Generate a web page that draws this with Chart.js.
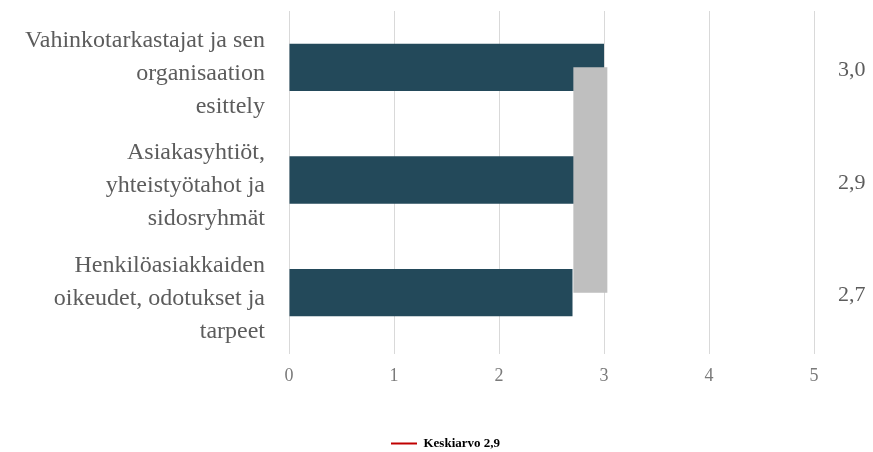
<!DOCTYPE html>
<html>
<head>
<meta charset="utf-8">
<script src="https://cdn.jsdelivr.net/npm/chart.js@4.4.1/dist/chart.umd.min.js"></script>
<style>
  html, body { margin: 0; padding: 0; background: #ffffff; }
  #wrap { width: 873px; height: 452px; position: relative; }
</style>
</head>
<body>
<div id="wrap"><canvas id="chart"></canvas></div>
<script>
// Survey topics (multi-line labels) and their mean scores on a 0–5 scale
const topics = [
  ['Vahinkotarkastajat ja sen', 'organisaation', 'esittely'],
  ['Asiakasyhtiöt,', 'yhteistyötahot ja', 'sidosryhmät'],
  ['Henkilöasiakkaiden', 'oikeudet, odotukset ja', 'tarpeet']
];
const scores = [3.0, 2.9, 2.7];
const overallMean = 2.87;
const xTicks = [0, 1, 2, 3, 4, 5];

const fmt = v => v.toFixed(1).replace('.', ',');
const serif = "'Liberation Serif', 'Times New Roman', serif";
const textGrey = '#5c5c5c';

// category axes: keep the plot area the full height, labels may overhang
const noEdgePadding = s => { s.paddingTop = 0; s.paddingBottom = 0; };

// move the legend a little to the right, under the plot
const legendNudge = {
  id: 'legendNudge',
  afterLayout(chart) {
    if (chart.legend) {
      chart.legend.left += 9;
      chart.legend.right += 9;
    }
  }
};

new Chart(document.getElementById('chart'), {
  type: 'bar',
  data: {
    labels: topics,
    datasets: [
      {
        type: 'line',
        label: 'Keskiarvo ' + fmt(overallMean),
        data: topics.map(() => overallMean),
        indexAxis: 'y',
        borderColor: '#bfbfbf',
        borderWidth: 34,
        borderCapStyle: 'butt',
        pointRadius: 0,
        fill: false,
        order: 0
      },
      {
        label: 'Pisteet',
        data: scores,
        backgroundColor: '#23495a',
        barPercentage: 0.42,
        categoryPercentage: 1.0,
        order: 1
      }
    ]
  },
  plugins: [legendNudge],
  options: {
    indexAxis: 'y',
    responsive: true,
    maintainAspectRatio: false,
    animation: false,
    layout: { padding: { top: 11, right: 0, left: 0, bottom: -8 } },
    plugins: {
      tooltip: { enabled: false },
      legend: {
        position: 'bottom',
        labels: {
          font: { family: serif, size: 13, weight: 'bold' },
          color: '#333333',
          usePointStyle: true,
          pointStyle: 'line',
          pointStyleWidth: 26,
          padding: 8,
          generateLabels: () => [{
            text: 'Keskiarvo ' + fmt(overallMean),
            strokeStyle: '#c00000',
            fillStyle: '#c00000',
            lineWidth: 2,
            pointStyle: 'line',
            datasetIndex: 0
          }]
        }
      }
    },
    scales: {
      x: {
        type: 'linear',
        min: 0,
        max: 5,
        afterBuildTicks: s => { s.ticks = xTicks.map(v => ({ value: v })); },
        ticks: {
          font: { family: serif, size: 18 },
          color: '#7a7a7a',
          padding: 11
        },
        grid: { color: '#d9d9d9', lineWidth: 1, tickLength: 5 },
        border: { display: false },
        afterFit: s => { s.height = 80; }
      },
      y: {
        type: 'category',
        position: 'left',
        offset: true,
        grid: { display: false, drawTicks: false },
        border: { display: false },
        ticks: {
          autoSkip: false,
          font: { family: serif, size: 24, lineHeight: 1.38 },
          color: textGrey,
          padding: 24,
          labelOffset: 6
        },
        afterFit: s => { s.width = 289; noEdgePadding(s); }
      },
      yVal: {
        type: 'category',
        position: 'right',
        labels: scores.map(fmt),
        offset: true,
        grid: { display: false, drawTicks: false },
        border: { display: false },
        ticks: {
          autoSkip: false,
          font: { family: serif, size: 22 },
          color: textGrey,
          padding: 24,
          labelOffset: 3
        },
        afterFit: s => { s.width = 59; noEdgePadding(s); }
      }
    }
  }
});
</script>
</body>
</html>
